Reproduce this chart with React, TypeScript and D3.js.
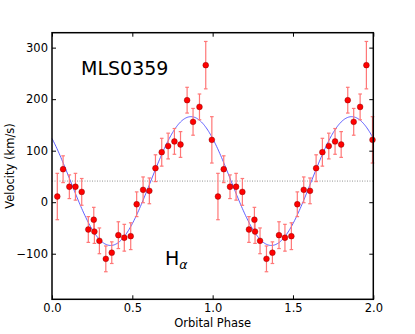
import React, { useRef, useEffect } from "react";
import * as d3 from "d3";

// orbital phase of each spectrum, measured velocity and its error (km/s)
const phases = [0.033, 0.069, 0.108, 0.146, 0.185, 0.226, 0.26, 0.264, 0.295, 0.335, 0.372, 0.413, 0.45, 0.49, 0.527, 0.567, 0.606, 0.644, 0.683, 0.723, 0.762, 0.8, 0.841, 0.878, 0.918, 0.957, 0.995];
const velocities = [11, 64, 30, 30, 20, -53, -34, -57, -75, -110, -98, -64, -69, -66, -4, 24, 22, 66, 97, 109, 118, 112, 198, 156, 185, 266, 121];
const errors = [45, 26, 23, 26, 26, 25, 24, 23, 25, 25, 21, 26, 26, 26, 24, 25, 25, 26, 27, 25, 25, 25, 25, 26, 25, 46, 45];

// sine fit parameters
const gamma = 41;
const K = 125;
const phaseMax = 0.865;

const xTicks = [0, 0.5, 1.0, 1.5, 2.0];
const yTicks = [-100, 0, 100, 200, 300];

const W = 415, H = 334;
const left = 52, right = 373.3, top = 32.7, bottom = 299.3;
const font = "DejaVu Sans, sans-serif";

function App() {
  const svgRef = useRef<SVGSVGElement>(null);

  useEffect(() => {
    const svg = d3.select(svgRef.current);
    svg.selectAll("*").remove();

    const x = d3.scaleLinear().domain([0, 2]).range([left, right]);
    const y = d3.scaleLinear().domain([-188.5, 329]).range([bottom, top]);

    // both cycles from the same measurements
    const pts = [0, 1].flatMap(c => phases.map((p, i) => ({ p: p + c, v: velocities[i], e: errors[i] })));

    // gamma velocity
    svg.append("line")
      .attr("x1", left).attr("x2", right)
      .attr("y1", y(gamma)).attr("y2", y(gamma))
      .attr("stroke", "#777").attr("stroke-width", 0.8)
      .attr("stroke-dasharray", "1,1.5");

    // fit curve
    const fit = d3.line<number>()
      .x(p => x(p))
      .y(p => y(gamma + K * Math.cos(2 * Math.PI * (p - phaseMax))));
    svg.append("path")
      .attr("d", fit(d3.range(0, 2.0001, 0.005)))
      .attr("fill", "none").attr("stroke", "#4d4dff").attr("stroke-width", 0.9);

    // error bars
    const eb = svg.append("g").attr("stroke", "#f77").attr("stroke-width", 1.2);
    eb.selectAll("line.bar").data(pts).join("line").attr("class", "bar")
      .attr("x1", d => x(d.p)).attr("x2", d => x(d.p))
      .attr("y1", d => y(d.v - d.e)).attr("y2", d => y(d.v + d.e));
    eb.selectAll("line.capT").data(pts).join("line").attr("class", "capT")
      .attr("x1", d => x(d.p) - 1.8).attr("x2", d => x(d.p) + 1.8)
      .attr("y1", d => y(d.v + d.e)).attr("y2", d => y(d.v + d.e));
    eb.selectAll("line.capB").data(pts).join("line").attr("class", "capB")
      .attr("x1", d => x(d.p) - 1.8).attr("x2", d => x(d.p) + 1.8)
      .attr("y1", d => y(d.v - d.e)).attr("y2", d => y(d.v - d.e));

    svg.append("g").selectAll("circle").data(pts).join("circle")
      .attr("cx", d => x(d.p)).attr("cy", d => y(d.v)).attr("r", 2.9)
      .attr("fill", "#f00").attr("stroke", "#700").attr("stroke-width", 0.4);

    // axes, ticks pointing in
    const styleAxis = (g: any) => {
      g.select(".domain").remove();
      g.selectAll("line").attr("stroke", "#000").attr("stroke-width", 1);
      g.selectAll("text").attr("font-family", font).attr("font-size", 11.5).attr("fill", "#000");
    };
    svg.append("g").attr("transform", `translate(0,${bottom})`)
      .call(d3.axisBottom(x).tickValues(xTicks).tickFormat(d3.format(".1f")).tickSize(-4).tickPadding(5))
      .call(styleAxis);
    svg.append("g").attr("transform", `translate(0,${top})`)
      .call(d3.axisTop(x).tickValues(xTicks).tickFormat(() => "").tickSize(-4))
      .call(styleAxis);
    svg.append("g").attr("transform", `translate(${left},0)`)
      .call(d3.axisLeft(y).tickValues(yTicks).tickFormat(d => d3.format("")(d as number).replace("-", "\u2212")).tickSize(-4).tickPadding(4))
      .call(styleAxis);
    svg.append("g").attr("transform", `translate(${right},0)`)
      .call(d3.axisRight(y).tickValues(yTicks).tickFormat(() => "").tickSize(-4))
      .call(styleAxis);

    svg.append("rect")
      .attr("x", left).attr("y", top).attr("width", right - left).attr("height", bottom - top)
      .attr("fill", "none").attr("stroke", "#000").attr("stroke-width", 1.5);

    svg.append("text").attr("x", (left + right) / 2).attr("y", 326.5)
      .attr("text-anchor", "middle").attr("font-family", font).attr("font-size", 11.5)
      .text("Orbital Phase");
    svg.append("text").attr("transform", `translate(14,${(top + bottom) / 2}) rotate(-90)`)
      .attr("text-anchor", "middle").attr("font-family", font).attr("font-size", 11.5)
      .text("Velocity (km/s)");

    svg.append("text").attr("x", 81).attr("y", 75)
      .attr("font-family", font).attr("font-size", 19).text("MLS0359");

    const ha = svg.append("text").attr("x", 165).attr("y", 265)
      .attr("font-family", font).attr("font-size", 19);
    ha.append("tspan").text("H");
    ha.append("tspan").attr("font-size", 12.5).attr("font-style", "italic").attr("dy", 4).text("\u03b1");
  }, []);

  return (
    <svg ref={svgRef} width={W} height={H}
      style={{ position: "absolute", left: 0, top: 0, background: "#fff" }} />
  );
}

export default App;
